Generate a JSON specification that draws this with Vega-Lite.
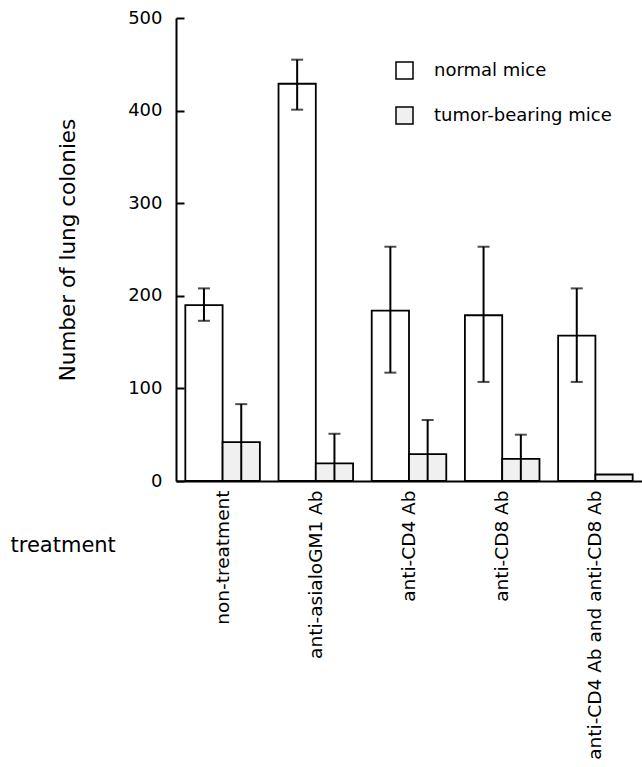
{
  "$schema": "https://vega.github.io/schema/vega-lite/v6.json",
  "autosize": "none",
  "width": 466,
  "height": 463,
  "padding": {"left": 176, "top": 18, "right": 0, "bottom": 286},
  "background": "white",
  "config": {
    "view": {"stroke": null},
    "font": "DejaVu Sans",
    "axis": {"labelFont": "DejaVu Sans", "titleFont": "DejaVu Sans", "labelColor": "black", "titleColor": "black", "titleFontWeight": "normal", "domainColor": "black", "domainWidth": 2, "tickColor": "black", "tickWidth": 2, "grid": false}
  },
  "data": {
    "values": [
      {"treatment": "non-treatment", "group": "normal mice", "value": 190, "lo": 173, "hi": 208},
      {"treatment": "non-treatment", "group": "tumor-bearing mice", "value": 42, "lo": 0, "hi": 83},
      {"treatment": "anti-asialoGM1 Ab", "group": "normal mice", "value": 429, "lo": 401, "hi": 455},
      {"treatment": "anti-asialoGM1 Ab", "group": "tumor-bearing mice", "value": 19, "lo": 0, "hi": 51},
      {"treatment": "anti-CD4 Ab", "group": "normal mice", "value": 184, "lo": 117, "hi": 253},
      {"treatment": "anti-CD4 Ab", "group": "tumor-bearing mice", "value": 29, "lo": 0, "hi": 66},
      {"treatment": "anti-CD8 Ab", "group": "normal mice", "value": 179, "lo": 107, "hi": 253},
      {"treatment": "anti-CD8 Ab", "group": "tumor-bearing mice", "value": 24, "lo": 0, "hi": 50},
      {"treatment": "anti-CD4 Ab and anti-CD8 Ab", "group": "normal mice", "value": 157, "lo": 107, "hi": 208},
      {"treatment": "anti-CD4 Ab and anti-CD8 Ab", "group": "tumor-bearing mice", "value": 7, "lo": null, "hi": null}
    ]
  },
  "encoding": {
    "x": {
      "field": "treatment", "type": "nominal", "sort": null,
      "scale": {"paddingInner": 0.2, "paddingOuter": 0.1},
      "axis": {
        "title": "treatment", "titleFontSize": 21, "titleAngle": 0,
        "titleX": -166, "titleY": 64, "titleAlign": "left", "titleBaseline": "middle", "titleAnchor": "start",
        "labelAngle": -90, "labelAlign": "right", "labelBaseline": "middle", "labelPadding": 9,
        "labelFontSize": 18.5, "labelLimit": 400, "ticks": false
      }
    },
    "xOffset": {"field": "group", "type": "nominal", "scale": {"paddingInner": 0, "paddingOuter": 0}}
  },
  "layer": [
    {
      "mark": {"type": "bar", "stroke": "black", "strokeWidth": 1.8},
      "encoding": {
        "y": {
          "field": "value", "type": "quantitative",
          "scale": {"domain": [0, 500], "nice": false},
          "axis": {
            "title": "Number of lung colonies", "titleFontSize": 21.5, "titlePadding": 48,
            "values": [0, 100, 200, 300, 400, 500], "labelFontSize": 18,
            "tickSize": -8, "labelPadding": 22
          }
        },
        "color": {
          "field": "group", "type": "nominal",
          "scale": {"domain": ["normal mice", "tumor-bearing mice"], "range": ["white", "#f0f0f0"]},
          "legend": {
            "title": null, "orient": "none", "legendX": 219, "legendY": 43,
            "symbolType": "square", "symbolSize": 289, "symbolStrokeColor": "black", "symbolStrokeWidth": 1.5,
            "labelFontSize": 18, "labelFont": "DejaVu Sans", "labelColor": "black", "labelOffset": 20, "labelLimit": 400, "rowPadding": 22
          }
        }
      }
    },
    {
      "mark": {"type": "rule", "color": "black", "strokeWidth": 2},
      "encoding": {
        "y": {"field": "lo", "type": "quantitative"},
        "y2": {"field": "hi"}
      }
    },
    {
      "mark": {"type": "tick", "color": "black", "thickness": 2, "size": 12, "orient": "horizontal"},
      "encoding": {"y": {"field": "hi", "type": "quantitative"}}
    },
    {
      "mark": {"type": "tick", "color": "black", "thickness": 2, "size": 12, "orient": "horizontal"},
      "encoding": {"y": {"field": "lo", "type": "quantitative"}}
    }
  ]
}
